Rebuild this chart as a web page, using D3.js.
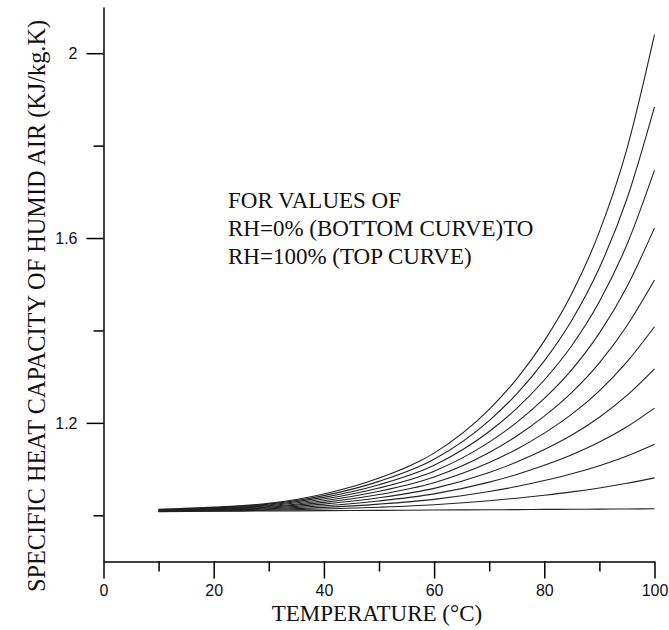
<!DOCTYPE html>
<html>
<head>
<meta charset="utf-8">
<script src="https://cdn.jsdelivr.net/npm/d3@7/dist/d3.min.js"></script>
<style>
  html, body { margin: 0; padding: 0; background: #fff; }
  svg { display: block; }
</style>
</head>
<body>
<svg id="chart" width="669" height="630"></svg>
<script>
// Temperatures (°C) at which each curve is sampled
const temps = [10, 20, 30, 40, 50, 60, 70, 75, 80, 85, 90, 95, 100];

// Specific heat of humid air (kJ/kg.K), one array per relative humidity
const cpRH0   = [1.0080, 1.0087, 1.0093, 1.0100, 1.0107, 1.0113, 1.0120, 1.0123, 1.0127, 1.0130, 1.0133, 1.0137, 1.014];
const cpRH10  = [1.0085, 1.0096, 1.0109, 1.0135, 1.0174, 1.0228, 1.0315, 1.0370, 1.0434, 1.0506, 1.0591, 1.0692, 1.081];
const cpRH20  = [1.0089, 1.0105, 1.0126, 1.0171, 1.0242, 1.0345, 1.0514, 1.0623, 1.0752, 1.0899, 1.1074, 1.1284, 1.154];
const cpRH30  = [1.0094, 1.0114, 1.0142, 1.0207, 1.0310, 1.0463, 1.0718, 1.0884, 1.1081, 1.1309, 1.1584, 1.1917, 1.232];
const cpRH40  = [1.0099, 1.0123, 1.0158, 1.0242, 1.0379, 1.0583, 1.0927, 1.1153, 1.1423, 1.1738, 1.2123, 1.2594, 1.317];
const cpRH50  = [1.0103, 1.0132, 1.0175, 1.0279, 1.0449, 1.0706, 1.1140, 1.1430, 1.1778, 1.2188, 1.2693, 1.3320, 1.408];
const cpRH60  = [1.0108, 1.0141, 1.0191, 1.0315, 1.0519, 1.0829, 1.1360, 1.1716, 1.2146, 1.2660, 1.3299, 1.4102, 1.509];
const cpRH70  = [1.0113, 1.0150, 1.0208, 1.0351, 1.0590, 1.0955, 1.1584, 1.2011, 1.2529, 1.3154, 1.3942, 1.4946, 1.622];
const cpRH80  = [1.0117, 1.0159, 1.0224, 1.0388, 1.0661, 1.1083, 1.1814, 1.2315, 1.2928, 1.3675, 1.4627, 1.5859, 1.747];
const cpRH90  = [1.0122, 1.0168, 1.0241, 1.0425, 1.0734, 1.1213, 1.2050, 1.2629, 1.3343, 1.4222, 1.5357, 1.6850, 1.884];
const cpRH100 = [1.0127, 1.0177, 1.0258, 1.0462, 1.0806, 1.1345, 1.2292, 1.2953, 1.3775, 1.4799, 1.6138, 1.7931, 2.040];

const seriesList = [cpRH0, cpRH10, cpRH20, cpRH30, cpRH40, cpRH50, cpRH60, cpRH70, cpRH80, cpRH90, cpRH100];

// Axis ticks
const xMajorTicks = [0, 20, 40, 60, 80, 100];
const xMinorTicks = [10, 30, 50, 70, 90];
const yMajorTicks = [1.2, 1.6, 2];
const yMinorTicks = [1.0, 1.4, 1.8];

const xTitle = "TEMPERATURE (°C)";
const yTitle = "SPECIFIC HEAT CAPACITY OF HUMID AIR (KJ/kg.K)";
const noteLines = ["FOR VALUES OF", "RH=0% (BOTTOM CURVE)TO", "RH=100% (TOP CURVE)"];

const svg = d3.select("#chart");
const plotLeft = 103.5, plotRight = 654.5, plotTop = 7, plotBottom = 561.5;

const x = d3.scaleLinear().domain([0, 100]).range([plotLeft, plotRight]);
const y = d3.scaleLinear().domain([0.9, 2.1]).range([plotBottom, plotTop]);

const sans = "'Liberation Sans', Arial, sans-serif";
const serif = "'Liberation Serif', 'Times New Roman', serif";

// X axis: major ticks with labels, minor ticks without
const gx = svg.append("g").attr("transform", `translate(0,${plotBottom})`);
gx.call(d3.axisBottom(x).tickValues(xMajorTicks).tickSize(17).tickSizeOuter(0).tickPadding(6).tickFormat(d3.format("d")));
gx.append("g").call(d3.axisBottom(x).tickValues(xMinorTicks).tickSize(10).tickSizeOuter(0).tickFormat(""))
  .select(".domain").remove();

// Y axis
const gy = svg.append("g").attr("transform", `translate(${plotLeft},0)`);
gy.call(d3.axisLeft(y).tickValues(yMajorTicks).tickSize(17).tickSizeOuter(0).tickPadding(9).tickFormat(d => d === 2 ? "2" : d3.format(".1f")(d)));
gy.append("g").call(d3.axisLeft(y).tickValues(yMinorTicks).tickSize(10).tickSizeOuter(0).tickFormat(""))
  .select(".domain").remove();

svg.selectAll(".domain, .tick line").attr("stroke", "#000").attr("stroke-width", 1.5);
svg.selectAll(".tick text").attr("font-family", sans).attr("font-size", 16).attr("fill", "#111");

// Curves, one per humidity level
const line = d3.line()
  .x((d, i) => x(temps[i]))
  .y(d => y(d))
  .curve(d3.curveMonotoneX);

svg.append("g")
  .selectAll("path")
  .data(seriesList)
  .join("path")
  .attr("d", line)
  .attr("fill", "none")
  .attr("stroke", "#222")
  .attr("stroke-width", 1.1);

// Axis titles
svg.append("text")
  .attr("x", (plotLeft + plotRight) / 2 - 2)
  .attr("y", 621)
  .attr("text-anchor", "middle")
  .attr("font-family", serif)
  .attr("font-size", 23)
  .attr("fill", "#111")
  .text(xTitle);

svg.append("text")
  .attr("transform", "translate(45,306) rotate(-90)")
  .attr("text-anchor", "middle")
  .attr("font-family", serif)
  .attr("font-size", 24.3)
  .attr("fill", "#111")
  .text(yTitle);

// Annotation
svg.append("g")
  .selectAll("text")
  .data(noteLines)
  .join("text")
  .attr("x", 228)
  .attr("y", (d, i) => 208 + i * 28)
  .attr("font-family", serif)
  .attr("font-size", 23)
  .attr("fill", "#111")
  .text(d => d);
</script>
</body>
</html>
